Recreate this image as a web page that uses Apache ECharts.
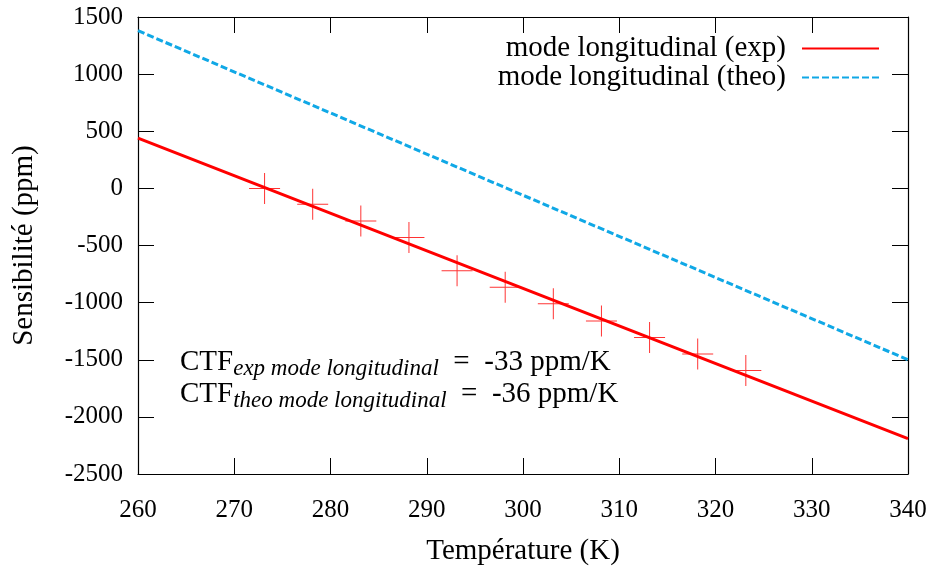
<!DOCTYPE html>
<html>
<head>
<meta charset="utf-8">
<script src="https://cdn.jsdelivr.net/npm/echarts@6/dist/echarts.min.js"></script>
<style>html,body{margin:0;padding:0;background:#fff}#c{width:933px;height:566px}</style>
</head>
<body>
<div id="c"></div>
<script>
// Data
const temperatures = [273.15, 278.15, 283.15, 288.15, 293.15, 298.15, 303.15, 308.15, 313.15, 318.15, 323.15];
const sensExp = [0, -140, -285, -430, -720, -865, -1010, -1160, -1305, -1450, -1595];
const fitX = [260, 340];
const fitExp = [440, -2190];
const fitTheo = [1380, -1500];
const xTicks = [260, 270, 280, 290, 300, 310, 320, 330, 340];
const yTicks = [-2500, -2000, -1500, -1000, -500, 0, 500, 1000, 1500];
const seriesNames = ['mode longitudinal (exp)', 'mode longitudinal (theo)'];

const FONT = "'Liberation Serif', 'DejaVu Serif', serif";
const chart = echarts.init(document.getElementById('c'), null, {renderer: 'canvas'});

const pairs = (xs, ys) => xs.map((x, i) => [x, ys[i]]);

const baseX = {
  type: 'value', min: xTicks[0], max: xTicks[xTicks.length - 1], interval: 10,
  axisLine: {show: true, onZero: false, lineStyle: {color: '#000', width: 1.2}},
  axisTick: {show: true, inside: true, length: 16, lineStyle: {color: '#000', width: 1}},
  splitLine: {show: false}
};
const baseY = {
  type: 'value', min: yTicks[0], max: yTicks[yTicks.length - 1], interval: 500,
  axisLine: {show: true, onZero: false, lineStyle: {color: '#000', width: 1.2}},
  axisTick: {show: true, inside: true, length: 16, lineStyle: {color: '#000', width: 1}},
  splitLine: {show: false}
};

const option = {
  backgroundColor: '#fff',
  animation: false,
  grid: {left: 138, right: 25, top: 17, bottom: 92, containLabel: false, outerBoundsMode: 'none'},
  xAxis: [
    Object.assign({}, baseX, {
      position: 'bottom',
      axisLabel: {show: true, margin: 24, color: '#000', fontFamily: FONT, fontSize: 25, formatter: v => String(v)},
      name: 'Température (K)', nameLocation: 'middle', nameGap: 63,
      nameTextStyle: {color: '#000', fontFamily: FONT, fontSize: 29}
    }),
    Object.assign({}, baseX, {position: 'top', axisLabel: {show: false}})
  ],
  yAxis: [
    Object.assign({}, baseY, {
      position: 'left',
      axisLabel: {show: true, margin: 15, color: '#000', fontFamily: FONT, fontSize: 25, formatter: v => String(v)},
      name: 'Sensibilité (ppm)', nameLocation: 'middle', nameGap: 99,
      nameTextStyle: {color: '#000', fontFamily: FONT, fontSize: 29}
    }),
    Object.assign({}, baseY, {position: 'right', axisLabel: {show: false}})
  ],
  legend: {
    orient: 'vertical', right: 48, top: 29, align: 'right',
    itemWidth: 77, itemHeight: 14, itemGap: 0,
    data: seriesNames,
    itemStyle: {opacity: 0},
    textStyle: {color: '#000', fontFamily: FONT, fontSize: 29, lineHeight: 28, width: 320, align: 'right', padding: [0, 11, 0, 0]}
  },
  graphic: [{
    type: 'text', x: 180, y: 346, z: 100,
    style: {
      text: '{m|CTF}{s|exp mode longitudinal}{m|  =  -33 ppm/K}\n{m|CTF}{s|theo mode longitudinal}{m|  =  -36 ppm/K}',
      verticalAlign: 'top',
      fill: '#000',
      rich: {
        m: {fontFamily: FONT, fontSize: 29, lineHeight: 32, fill: '#000'},
        s: {fontFamily: FONT, fontSize: 23, fontStyle: 'italic', lineHeight: 32, padding: [14, 0, 0, 0], fill: '#000'}
      }
    }
  }],
  series: [
    {
      name: seriesNames[0], type: 'line', data: pairs(fitX, fitExp),
      showSymbol: false, symbol: 'none',
      lineStyle: {color: '#ff0000', width: 3}, itemStyle: {color: '#ff0000'}, z: 3
    },
    {
      name: seriesNames[1], type: 'line', data: pairs(fitX, fitTheo),
      showSymbol: false, symbol: 'none',
      lineStyle: {color: '#10a8e6', width: 3, type: [7, 3]}, itemStyle: {color: '#10a8e6'}, z: 3
    },
    {
      name: 'points', type: 'scatter', data: pairs(temperatures, sensExp),
      symbol: 'path://M15,0h1v31h-1zM0,15h31v1h-31z', symbolSize: 31,
      itemStyle: {color: '#ff0000'}, z: 4
    }
  ]
};
chart.setOption(option);
</script>
</body>
</html>
